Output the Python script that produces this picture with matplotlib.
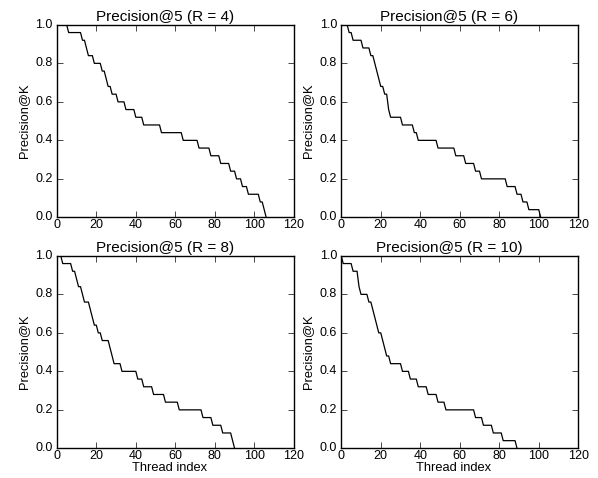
import numpy as np
import matplotlib
matplotlib.use('Agg')
import matplotlib.pyplot as plt

# precision levels and how many consecutive thread indices stay at each level
r4_vals = [1.00, 0.96, 0.92, 0.88, 0.84, 0.80, 0.76, 0.72, 0.68, 0.64, 0.60, 0.56, 0.52,
           0.48, 0.44, 0.40, 0.36, 0.32, 0.28, 0.24, 0.20, 0.16, 0.12, 0.08, 0.04, 0.00]
r4_runs = [6, 7, 2, 1, 3, 4, 2, 1, 2, 3, 4, 5, 4, 9, 11, 8, 6, 5, 5, 3, 3, 3, 6, 2, 1, 1]

r6_vals = [1.00, 0.96, 0.92, 0.88, 0.84, 0.80, 0.76, 0.72, 0.68, 0.64, 0.56, 0.52,
           0.48, 0.44, 0.40, 0.36, 0.32, 0.28, 0.24, 0.20, 0.16, 0.12, 0.08, 0.04, 0.00]
r6_runs = [4, 2, 5, 4, 2, 1, 1, 1, 2, 2, 1, 6, 6, 2, 10, 9, 5, 5, 3, 13, 5, 3, 3, 6, 1]

r8_vals = [1.00, 0.96, 0.92, 0.88, 0.84, 0.80, 0.76, 0.72, 0.68, 0.64, 0.60, 0.56, 0.52,
           0.48, 0.44, 0.40, 0.36, 0.32, 0.28, 0.24, 0.20, 0.16, 0.12, 0.08, 0.04, 0.00]
r8_runs = [3, 5, 2, 1, 2, 1, 3, 1, 1, 2, 2, 4, 1, 1, 4, 8, 3, 5, 6, 7, 12, 5, 5, 5, 1, 1]

r10_vals = [1.00, 0.96, 0.92, 0.84, 0.80, 0.76, 0.72, 0.68, 0.64, 0.60, 0.56, 0.52,
            0.48, 0.44, 0.40, 0.36, 0.32, 0.28, 0.24, 0.20, 0.16, 0.12, 0.08, 0.04, 0.00]
r10_runs = [1, 5, 3, 1, 4, 2, 1, 1, 1, 2, 1, 1, 2, 6, 4, 4, 5, 5, 4, 15, 4, 5, 5, 7, 1]

panels = [(4, r4_vals, r4_runs), (6, r6_vals, r6_runs),
          (8, r8_vals, r8_runs), (10, r10_vals, r10_runs)]

plt.style.use('classic')
plt.rcParams['font.family'] = ['Liberation Sans', 'DejaVu Sans']
plt.rcParams['savefig.facecolor'] = 'white'

fig, axes = plt.subplots(2, 2, figsize=(5.98, 4.78), dpi=100)
fig.patch.set_facecolor('white')
plt.subplots_adjust(left=0.095, right=0.967, bottom=0.062, top=0.948,
                    wspace=0.2, hspace=0.2)

for i, (ax, (r, vals, runs)) in enumerate(zip(axes.flat, panels)):
    y = np.repeat(vals, runs)
    x = np.arange(len(y))
    ax.plot(x, y, color='k', linewidth=0.9)
    ax.set_xlim(0, 120)
    ax.set_ylim(0, 1.0)
    ax.set_xticks(np.arange(0, 121, 20))
    ax.set_yticks(np.arange(0, 1.01, 0.2))
    ax.set_yticklabels(['%.1f' % v for v in np.arange(0, 1.01, 0.2)])
    ax.tick_params(labelsize=9, length=4)
    ax.tick_params(axis='x', pad=1)
    ax.tick_params(axis='y', pad=3)
    ax.set_title('Precision@5 (R = %d)' % r, fontsize=11, pad=3, x=0.455)
    ax.set_ylabel('Precision@K', fontsize=9.3, labelpad=4)
    if i >= 2:
        ax.set_xlabel('Thread index', fontsize=9.3, labelpad=0, x=0.475)

plt.savefig('out.png', dpi=100)
